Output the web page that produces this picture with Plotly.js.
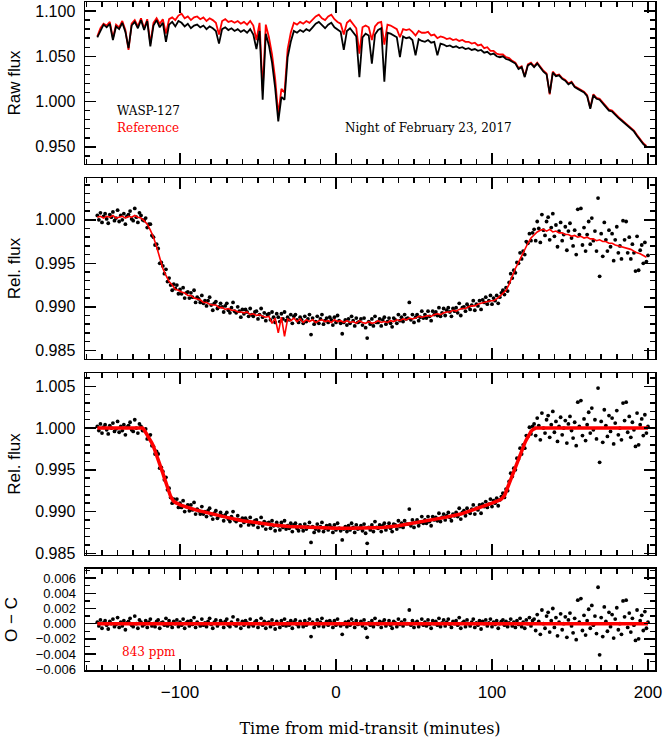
<!DOCTYPE html>
<html>
<head>
<meta charset="utf-8">
<script src="https://cdn.plot.ly/plotly-3.0.1.min.js"></script>
<style>html,body{margin:0;padding:0;background:#fff;}#chart{width:664px;height:738px;}</style>
</head>
<body>
<div id="chart"></div>
<script>
// ---- time grids (minutes from mid-transit) ----
const tMin = [
-153,-152,-151,-150,-149,-148,-147,-146,-145,-144,
-143,-142,-141,-140,-139,-138,-137,-136,-135,-134,
-133,-132,-131,-130,-129,-128,-127,-126,-125,-124,
-123,-122,-121,-120,-119,-118,-117,-116,-115,-114,
-113,-112,-111,-110,-109,-108,-107,-106,-105,-104,
-103,-102,-101,-100,-99,-98,-97,-96,-95,-94,
-93,-92,-91,-90,-89,-88,-87,-86,-85,-84,
-83,-82,-81,-80,-79,-78,-77,-76,-75,-74,
-73,-72,-71,-70,-69,-68,-67,-66,-65,-64,
-63,-62,-61,-60,-59,-58,-57,-56,-55,-54,
-53,-52,-51,-50,-49,-48,-47,-46,-45,-44,
-43,-42,-41,-40,-39,-38,-37,-36,-35,-34,
-33,-32,-31,-30,-29,-28,-27,-26,-25,-24,
-23,-22,-21,-20,-19,-18,-17,-16,-15,-14,
-13,-12,-11,-10,-9,-8,-7,-6,-5,-4,
-3,-2,-1,0,1,2,3,4,5,6,
7,8,9,10,11,12,13,14,15,16,
17,18,19,20,21,22,23,24,25,26,
27,28,29,30,31,32,33,34,35,36,
37,38,39,40,41,42,43,44,45,46,
47,48,49,50,51,52,53,54,55,56,
57,58,59,60,61,62,63,64,65,66,
67,68,69,70,71,72,73,74,75,76,
77,78,79,80,81,82,83,84,85,86,
87,88,89,90,91,92,93,94,95,96,
97,98,99,100,101,102,103,104,105,106,
107,108,109,110,111,112,113,114,115,116,
117,118,119,120,121,122,123,124,125,126,
127,128,129,130,131,132,133,134,135,136,
137,138,139,140,141,142,143,144,145,146,
147,148,149,150,151,152,153,154,155,156,
157,158,159,160,161,162,163,164,165,166,
167,168,169,170,171,172,173,174,175,176,
177,178,179,180,181,182,183,184,185,186,
187,188,189,190,191,192,193,194,195,196,
197,198,199,200];

// Panel 2: relative flux (before detrending)
const relFlux = [
1.0005,1.0000,1.0008,.9997,1.0004,1.0007,1.0001,.9996,1.0006,1.0003,
1.0009,.9999,1.0002,1.0011,.9998,1.0005,1.0000,1.0007,.9995,1.0004,
1.0006,1.0010,1.0001,.9999,1.0013,1.0003,.9997,1.0008,1.0005,1.0000,
.9999,1.0002,.9991,.9995,.9995,.9982,.9980,.9971,.9972,.9967,
.9950,.9951,.9947,.9938,.9943,.9929,.9933,.9925,.9919,.9926,
.9921,.9925,.9915,.9920,.9915,.9922,.9910,.9916,.9917,.9910,
.9916,.9911,.9919,.9905,.9911,.9909,.9905,.9913,.9904,.9907,
.9901,.9907,.9911,.9902,.9896,.9904,.9906,.9898,.9900,.9904,
.9900,.9894,.9901,.9904,.9896,.9893,.9899,.9905,.9895,.9893,
.9900,.9895,.9888,.9897,.9892,.9897,.9894,.9889,.9898,.9891,
.9889,.9894,.9895,.9886,.9891,.9898,.9888,.9893,.9884,.9891,
.9892,.9885,.9894,.9888,.9882,.9892,.9888,.9883,.9892,.9886,
.9894,.9884,.9888,.9885,.9891,.9881,.9889,.9891,.9885,.9882,
.9888,.9885,.9881,.9889,.9883,.9886,.9891,.9868,.9887,.9880,
.9883,.9889,.9881,.9886,.9891,.9880,.9884,.9887,.9882,.9888,
.9885,.9879,.9888,.9882,.9890,.9884,.9881,.9869,.9882,.9885,
.9879,.9886,.9881,.9889,.9884,.9878,.9887,.9882,.9883,.9886,
.9879,.9887,.9876,.9864,.9883,.9880,.9886,.9878,.9889,.9882,
.9882,.9886,.9878,.9885,.9888,.9880,.9883,.9887,.9881,.9877,
.9887,.9885,.9881,.9891,.9884,.9888,.9883,.9891,.9886,.9887,
.9905,.9885,.9891,.9882,.9888,.9891,.9884,.9888,.9895,.9887,
.9891,.9887,.9895,.9889,.9884,.9895,.9891,.9894,.9890,.9899,
.9889,.9893,.9898,.9890,.9896,.9899,.9894,.9889,.9898,.9895,
.9899,.9893,.9904,.9890,.9899,.9900,.9895,.9903,.9900,.9897,
.9902,.9907,.9896,.9903,.9901,.9907,.9897,.9908,.9905,.9911,
.9903,.9907,.9913,.9903,.9910,.9907,.9913,.9904,.9911,.9916,
.9919,.9914,.9922,.9918,.9928,.9938,.9933,.9942,.9939,.9951,
.9950,.9962,.9955,.9964,.9960,.9975,.9973,.9984,.9976,.9985,
.9989,.9976,.9998,.9990,.9974,1.0006,.9988,.9982,.9998,1.0003,
.9977,.9991,1.0007,.9981,.9994,.9969,.9987,.9997,.9976,.9983,
.9992,.9965,.9987,.9996,.9979,.9970,.9988,.9960,1.0012,.9983,
1.0013,.9971,.9991,.9964,.9983,.9998,.9972,1.0002,.9976,.9987,
.9964,1.0025,.9935,.9984,.9958,.9997,.9977,.9964,.9988,.9969,
.9984,.9953,.9977,.9992,.9962,.9970,.9955,.9999,.9977,.9998,
.9962,.9980,.9955,.9972,.9962,.9941,.9981,.9942,.9965,.9971,
.9950,.9974,.9952,.9959];

// Panel 3: detrended relative flux
const relDetrended = [
1.0002,.9997,1.0005,.9994,1.0001,1.0004,.9998,.9993,1.0003,1.0000,
1.0006,.9996,.9999,1.0008,.9995,1.0002,.9997,1.0004,.9992,1.0001,
1.0003,1.0007,.9998,.9996,1.0010,1.0000,.9994,1.0005,1.0002,.9997,
.9997,.9999,.9987,.9991,.9992,.9979,.9978,.9969,.9972,.9969,
.9952,.9953,.9948,.9938,.9941,.9926,.9928,.9917,.9910,.9915,
.9911,.9915,.9905,.9910,.9905,.9913,.9900,.9906,.9908,.9901,
.9908,.9902,.9911,.9897,.9903,.9901,.9897,.9906,.9897,.9900,
.9894,.9901,.9904,.9896,.9891,.9898,.9901,.9892,.9895,.9899,
.9895,.9889,.9896,.9899,.9891,.9888,.9894,.9900,.9890,.9888,
.9895,.9890,.9883,.9892,.9887,.9892,.9889,.9884,.9893,.9886,
.9884,.9889,.9890,.9881,.9886,.9893,.9883,.9888,.9879,.9886,
.9887,.9880,.9889,.9883,.9877,.9887,.9883,.9878,.9887,.9881,
.9889,.9879,.9883,.9880,.9886,.9876,.9884,.9886,.9880,.9877,
.9884,.9881,.9877,.9885,.9879,.9882,.9887,.9863,.9882,.9875,
.9879,.9885,.9877,.9882,.9887,.9876,.9880,.9883,.9878,.9884,
.9881,.9875,.9884,.9878,.9886,.9880,.9877,.9866,.9879,.9882,
.9876,.9883,.9878,.9886,.9881,.9875,.9884,.9879,.9880,.9883,
.9877,.9885,.9874,.9862,.9881,.9878,.9884,.9876,.9888,.9881,
.9880,.9884,.9876,.9883,.9886,.9878,.9882,.9886,.9880,.9876,
.9885,.9884,.9879,.9889,.9882,.9886,.9881,.9889,.9885,.9885,
.9903,.9883,.9890,.9881,.9887,.9890,.9883,.9887,.9894,.9886,
.9890,.9886,.9894,.9888,.9883,.9894,.9890,.9893,.9889,.9898,
.9888,.9893,.9897,.9890,.9895,.9899,.9893,.9889,.9897,.9895,
.9899,.9894,.9904,.9891,.9899,.9901,.9895,.9904,.9900,.9898,
.9903,.9908,.9897,.9904,.9902,.9908,.9898,.9909,.9906,.9912,
.9905,.9909,.9915,.9906,.9913,.9910,.9916,.9907,.9914,.9918,
.9922,.9917,.9927,.9925,.9936,.9946,.9942,.9952,.9950,.9964,
.9963,.9976,.9969,.9980,.9976,.9991,.9990,1.0001,.9993,1.0002,
1.0005,.9991,1.0012,1.0003,.9986,1.0018,1.0000,.9994,1.0010,1.0015,
.9989,1.0004,1.0020,.9995,1.0008,.9984,1.0002,1.0013,.9992,1.0000,
1.0009,.9982,1.0005,1.0014,.9997,.9988,1.0007,.9979,1.0031,1.0002,
1.0033,.9991,1.0011,.9985,1.0004,1.0019,.9994,1.0024,.9998,1.0010,
.9987,1.0048,.9959,1.0008,.9983,1.0022,1.0003,.9990,1.0015,.9996,
1.0012,.9981,1.0006,1.0021,.9992,1.0000,.9986,1.0030,1.0009,1.0031,
.9995,1.0014,.9989,1.0007,.9998,.9978,1.0018,.9980,1.0004,1.0011,
.9991,1.0016,.9994,1.0002];

// Panel 4: residuals O - C
const residuals = [
.0002,-.0003,.0005,-.0006,.0001,.0004,-.0002,-.0007,.0003,0,
.0006,-.0004,-.0001,.0008,-.0005,.0002,-.0003,.0004,-.0008,.0001,
.0003,.0007,-.0002,-.0004,.0010,0,-.0006,.0005,.0002,-.0003,
-.0001,.0004,-.0005,.0002,.0006,-.0003,0,-.0004,.0003,.0005,
-.0006,.0001,.0002,-.0002,.0007,-.0003,.0004,-.0001,-.0005,.0003,
0,.0005,-.0004,.0002,-.0002,.0006,-.0006,.0001,.0003,-.0003,
.0004,-.0001,.0008,-.0005,.0002,0,-.0003,.0006,-.0002,.0001,
-.0004,.0003,.0007,-.0001,-.0006,.0002,.0005,-.0003,0,.0004,
.0001,-.0005,.0003,.0006,-.0002,-.0004,.0002,.0009,-.0001,-.0003,
.0005,0,-.0006,.0003,-.0002,.0004,.0001,-.0004,.0006,-.0001,
-.0003,.0002,.0004,-.0005,0,.0007,-.0002,.0003,-.0006,.0001,
.0002,-.0004,.0005,-.0001,-.0007,.0003,0,-.0005,.0004,-.0002,
.0006,-.0003,.0001,-.0002,.0004,-.0006,.0002,.0005,-.0001,-.0004,
.0003,0,-.0004,.0004,-.0002,.0001,.0006,-.0017,.0002,-.0005,
-.0001,.0005,-.0003,.0002,.0007,-.0004,0,.0003,-.0002,.0004,
.0001,-.0005,.0004,-.0002,.0006,0,-.0003,-.0014,-.0001,.0002,
-.0004,.0003,-.0002,.0006,.0001,-.0005,.0004,-.0001,0,.0003,
-.0003,.0005,-.0006,-.0018,.0001,-.0002,.0004,-.0004,.0007,0,
-.0001,.0003,-.0005,.0002,.0005,-.0003,0,.0004,-.0002,-.0006,
.0003,.0001,-.0004,.0006,-.0001,.0002,-.0003,.0005,0,0,
.0018,-.0002,.0004,-.0005,.0001,.0003,-.0004,0,.0006,-.0002,
.0002,-.0003,.0005,-.0001,-.0006,.0004,0,.0003,-.0002,.0007,
-.0004,.0001,.0005,-.0003,.0002,.0006,-.0001,-.0005,.0003,0,
.0004,-.0002,.0008,-.0006,.0001,.0003,-.0004,.0005,0,-.0003,
.0002,.0006,-.0005,.0001,-.0002,.0004,-.0007,.0003,0,.0005,
-.0003,.0001,.0006,-.0004,.0002,-.0001,.0004,-.0006,0,.0003,
.0005,-.0002,.0003,-.0004,.0001,.0006,-.0003,.0002,-.0005,.0004,
-.0001,.0007,-.0004,.0002,-.0006,.0005,0,.0008,-.0003,.0004,
.0006,-.0009,.0012,.0003,-.0014,.0018,0,-.0006,.0010,.0015,
-.0011,.0004,.0020,-.0005,.0008,-.0016,.0002,.0013,-.0008,0,
.0009,-.0018,.0005,.0014,-.0003,-.0012,.0007,-.0021,.0031,.0002,
.0033,-.0009,.0011,-.0015,.0004,.0019,-.0006,.0024,-.0002,.0010,
-.0013,.0048,-.0041,.0008,-.0017,.0022,.0003,-.0010,.0015,-.0004,
.0012,-.0019,.0006,.0021,-.0008,0,-.0014,.0030,.0009,.0031,
-.0005,.0014,-.0011,.0007,-.0002,-.0022,.0018,-.0020,.0004,.0011,
-.0009,.0016,-.0006,.0002];

// 2-minute grid for the raw light curves and the panel-2 reference model
const tRaw = [
-153,-151,-149,-147,-145,-143,-141,-139,-137,-135,-133,-131,-129,-127,-125,
-123,-121,-119,-117,-115,-113,-111,-109,-107,-105,-103,-101,
-99,-97,-95,-93,-91,-89,-87,-85,-83,-81,-79,-77,
-75,-73,-71,-69,-67,-65,-63,-61,-59,-57,-55,-53,
-51,-49,-47,-45,-43,-41,-39,-37,-35,-33,-31,-29,
-27,-25,-23,-21,-19,-17,-15,-13,-11,-9,-7,-5,
-3,-1,1,3,5,7,9,11,13,15,17,19,
21,23,25,27,29,31,33,35,37,39,41,43,
45,47,49,51,53,55,57,59,61,63,65,67,
69,71,73,75,77,79,81,83,85,87,89,91,
93,95,97,99,101,103,105,107,109,111,113,115,
117,119,121,123,125,127,129,131,133,135,137,139,
141,143,145,147,149,151,153,155,157,159,161,163,
165,167,169,171,173,175,177,179,181,183,185,187,
189,191,193,195,197,199];

const rawTarget = [
1.071,1.079,1.085,1.082,1.086,1.068,1.083,1.080,1.087,1.077,1.059,1.084,1.088,1.081,1.090,
1.079,1.089,1.061,1.084,1.090,1.082,1.087,1.066,1.085,1.088,1.083,1.089,
1.087,1.083,1.086,1.081,1.084,1.085,1.082,1.084,1.080,1.083,1.081,1.078,
1.064,1.080,1.082,1.079,1.081,1.078,1.080,1.077,1.079,1.076,1.080,1.074,
1.058,1.078,1.002,1.075,1.062,1.043,1.015,0.978,1.005,1.002,1.049,1.066,
1.078,1.076,1.079,1.077,1.080,1.078,1.082,1.086,1.088,1.084,1.081,1.085,
1.087,1.082,1.079,1.077,1.057,1.078,1.081,1.076,1.072,1.027,1.071,1.075,
1.073,1.042,1.074,1.079,1.081,1.022,1.076,1.075,1.073,1.071,1.049,1.072,
1.070,1.071,1.068,1.051,1.069,1.067,1.066,1.068,1.065,1.066,1.051,1.064,
1.063,1.061,1.062,1.060,1.061,1.059,1.060,1.058,1.059,1.057,1.058,1.056,
1.057,1.054,1.055,1.052,1.053,1.050,1.049,1.050,1.047,1.046,1.044,1.042,
1.036,1.038,1.027,1.040,1.042,1.038,1.042,1.037,1.033,1.030,1.009,1.032,
1.028,1.029,1.025,1.023,1.019,1.021,1.016,1.014,1.012,1.010,1.006,0.992,
1.007,1.003,1.002,0.998,0.994,0.990,0.989,0.985,0.982,0.979,0.976,0.974,
0.970,0.967,0.962,0.957,0.953,0.950];

const rawReference = [
1.072,1.081,1.086,1.084,1.088,1.070,1.085,1.082,1.089,1.079,1.057,1.086,1.090,1.083,1.092,
1.081,1.091,1.064,1.087,1.092,1.086,1.091,1.075,1.091,1.093,1.090,1.095,
1.097,1.092,1.094,1.090,1.093,1.094,1.091,1.093,1.089,1.092,1.090,1.087,
1.074,1.089,1.091,1.088,1.089,1.087,1.089,1.086,1.088,1.085,1.089,1.084,
1.068,1.087,1.012,1.085,1.071,1.052,1.025,0.985,1.014,1.010,1.058,1.076,
1.087,1.085,1.088,1.086,1.089,1.087,1.091,1.094,1.096,1.092,1.090,1.094,
1.096,1.091,1.088,1.086,1.074,1.087,1.090,1.085,1.081,1.053,1.082,1.084,
1.082,1.068,1.083,1.087,1.088,1.063,1.085,1.084,1.082,1.080,1.071,1.080,
1.079,1.080,1.077,1.073,1.078,1.076,1.076,1.077,1.073,1.074,1.070,1.072,
1.071,1.069,1.070,1.068,1.069,1.067,1.068,1.066,1.066,1.064,1.065,1.062,
1.063,1.059,1.060,1.056,1.056,1.053,1.052,1.052,1.049,1.048,1.045,1.043,
1.037,1.039,1.028,1.041,1.043,1.039,1.043,1.038,1.034,1.031,1.008,1.033,
1.029,1.030,1.026,1.024,1.020,1.022,1.017,1.015,1.013,1.011,1.007,0.993,
1.008,1.004,1.003,0.999,0.995,0.991,0.990,0.986,0.983,0.980,0.977,0.975,
0.971,0.968,0.963,0.958,0.954,0.951];

// Panel 2 red curve (model incl. reference trend)
const trendModel = [
1.0003,1.0004,1.0002,1.0004,1.0003,1.0005,1.0002,1.0003,1.0004,1.0002,1.0004,1.0003,1.0005,1.0003,1.0002,
.9999,.9995,.9988,.9980,.9969,.9956,.9944,.9936,.9929,.9925,.9920,.9919,
.9917,.9916,.9913,.9913,.9910,.9909,.9908,.9905,.9905,.9903,.9902,.9902,
.9899,.9899,.9897,.9898,.9896,.9896,.9894,.9894,.9893,.9894,.9891,.9892,
.9890,.9891,.9889,.9888,.9889,.9881,.9887,.9870,.9888,.9866,.9886,.9884,
.9887,.9883,.9886,.9882,.9885,.9883,.9885,.9882,.9884,.9885,.9883,.9884,
.9882,.9885,.9883,.9884,.9882,.9884,.9882,.9883,.9881,.9884,.9882,.9881,
.9883,.9881,.9882,.9884,.9882,.9883,.9882,.9884,.9883,.9885,.9884,.9886,
.9885,.9887,.9886,.9887,.9889,.9888,.9889,.9890,.9889,.9891,.9892,.9891,
.9893,.9894,.9894,.9896,.9895,.9897,.9898,.9898,.9900,.9901,.9901,.9903,
.9904,.9905,.9906,.9907,.9907,.9909,.9912,.9915,.9919,.9926,.9936,.9944,
.9951,.9959,.9966,.9973,.9979,.9983,.9986,.9988,.9989,.9987,.9989,.9986,
.9987,.9985,.9985,.9983,.9983,.9981,.9982,.9980,.9981,.9979,.9980,.9978,
.9978,.9976,.9977,.9975,.9975,.9973,.9973,.9971,.9970,.9969,.9968,.9967,
.9966,.9964,.9962,.9961,.9959,.9957];

// Panel 3 transit model
const tModel = [-153,-124,-123,-122,-121,-120,-119,-118,-117,-116,-115,-114,-113,-112,-111,-110,-109,-108,-107,-106,-105,-104,-103,-102,
-100,-90,-80,-70,-60,-50,-40,-30,-20,-10,0,10,20,30,40,50,60,70,80,90,100,104,106,108,
109,110,111,112,113,114,115,116,117,118,119,120,121,122,123,124,125,126,127,128,200];
const transitModel = [1.0000,1.0000,.9998,.9995,.9992,.9989,.9986,.9982,.9978,.9973,.9969,.9964,.9958,.9952,.9946,.9940,.9934,.9929,.9924,.9918,.9915,.9912,.9911,.9910,
.9908,.9902,.9897,.9893,.9889,.9886,.9884,.9882,.9881,.9880,.9880,.9880,.9880,.9881,.9883,.9886,.9889,.9893,.9897,.9903,.9910,.9913,.9915,.9919,
.9924,.9929,.9935,.9940,.9945,.9950,.9955,.9960,.9964,.9969,.9973,.9978,.9982,.9986,.9990,.9993,.9996,.9998,.9999,1.0000,1.0000];

// Panel 4 zero line
const tZero = [-153, 200];
const zeroLine = [0, 0];

const yTicks1 = [0.95, 1.0, 1.05, 1.1];
const yTicks23 = [0.985, 0.99, 0.995, 1.0, 1.005];
const yTicks4 = [-0.006, -0.004, -0.002, 0, 0.002, 0.004, 0.006];
const xTicks = [-100, 0, 100, 200];

const BLACK = '#000000', RED = '#ff0000';
const SANS = 'Liberation Sans, Arial, Helvetica, sans-serif';
const titleFont = {family: SANS, size: 17, color: BLACK};
const noteFont = {family: 'DejaVu Serif, serif', size: 12, color: BLACK};

const traces = [
  // Panel 1 raw flux
  {x: tRaw, y: rawReference, xaxis: 'x4', yaxis: 'y4', type: 'scatter', mode: 'lines', line: {color: RED, width: 1.8}, name: 'Reference'},
  {x: tRaw, y: rawTarget, xaxis: 'x4', yaxis: 'y4', type: 'scatter', mode: 'lines', line: {color: BLACK, width: 1.8}, name: 'WASP-127'},
  // Panel 2
  {x: tMin, y: relFlux, xaxis: 'x3', yaxis: 'y3', type: 'scatter', mode: 'markers', marker: {color: BLACK, size: 3.8}},
  {x: tRaw, y: trendModel, xaxis: 'x3', yaxis: 'y3', type: 'scatter', mode: 'lines', line: {color: RED, width: 1.6}},
  // Panel 3
  {x: tMin, y: relDetrended, xaxis: 'x2', yaxis: 'y2', type: 'scatter', mode: 'markers', marker: {color: BLACK, size: 3.8}},
  {x: tModel, y: transitModel, xaxis: 'x2', yaxis: 'y2', type: 'scatter', mode: 'lines', line: {color: RED, width: 3.5}},
  // Panel 4
  {x: tMin, y: residuals, xaxis: 'x', yaxis: 'y', type: 'scatter', mode: 'markers', marker: {color: BLACK, size: 3.8}},
  {x: tZero, y: zeroLine, xaxis: 'x', yaxis: 'y', type: 'scatter', mode: 'lines', line: {color: RED, width: 3.5}}
];

function xAx(showLabels, anchor) {
  const a = {
    anchor: anchor, range: [-160.9, 204.5], tickvals: xTicks, showticklabels: showLabels,
    ticks: 'inside', ticklen: 11, tickwidth: 1.5, tickcolor: BLACK,
    showline: true, linecolor: BLACK, linewidth: 1.5, mirror: 'allticks',
    showgrid: false, zeroline: false, tickfont: {family: SANS, size: 17, color: BLACK},
    ticklabelstandoff: 6,
    minor: {dtick: 10, tick0: 0, ticks: 'inside', ticklen: 5, tickwidth: 1.5, tickcolor: BLACK, showgrid: false}
  };
  if (showLabels) {
    a.title = {text: 'Time from mid-transit (minutes)', font: {family: 'DejaVu Serif, serif', size: 16, color: BLACK}, standoff: 22};
  }
  return a;
}
function yAx(anchor, domain, range, tickvals, minorDtick, title, fsize, standoff) {
  return {
    anchor: anchor, domain: domain, range: range, tickvals: tickvals, tickformat: '.3f',
    ticks: 'inside', ticklen: 11, tickwidth: 1.5, tickcolor: BLACK,
    showline: true, linecolor: BLACK, linewidth: 1.5, mirror: 'allticks',
    showgrid: false, zeroline: false, tickfont: {family: SANS, size: fsize, color: BLACK}, ticklabelstandoff: 5,
    minor: {dtick: minorDtick, tick0: 0, ticks: 'inside', ticklen: 5, tickwidth: 1.5, tickcolor: BLACK, showgrid: false},
    title: {text: title, font: titleFont, standoff: standoff}
  };
}

const layout = {
  width: 664, height: 738,
  margin: {l: 85, r: 9, t: 2, b: 68},
  paper_bgcolor: '#ffffff', plot_bgcolor: '#ffffff',
  showlegend: false,
  xaxis: xAx(true, 'y'),
  xaxis2: xAx(false, 'y2'),
  xaxis3: xAx(false, 'y3'),
  xaxis4: xAx(false, 'y4'),
  yaxis: yAx('x', [0, 0.1512], [-0.0061, 0.0072], yTicks4, 0.001, 'O \u2212 C', 13, 14),
  yaxis2: yAx('x2', [0.1722, 0.4446], [0.9848, 1.0066], yTicks23, 0.001, 'Rel. flux', 16, 10),
  yaxis3: yAx('x3', [0.4656, 0.7365], [0.9840, 1.0048], yTicks23, 0.001, 'Rel. flux', 16, 10),
  yaxis4: yAx('x4', [0.7575, 1.0], [0.931, 1.110], yTicks1, 0.01, 'Raw flux', 16, 10),
  annotations: [
    {xref: 'x4', yref: 'y4', x: -141.7, y: 0.9894, xanchor: 'left', yanchor: 'middle', text: 'WASP-127', showarrow: false, font: noteFont},
    {xref: 'x4', yref: 'y4', x: -141.7, y: 0.9706, xanchor: 'left', yanchor: 'middle', text: 'Reference', showarrow: false, font: {family: 'DejaVu Serif, serif', size: 12, color: RED}},
    {xref: 'x4', yref: 'y4', x: 4.5, y: 0.9706, xanchor: 'left', yanchor: 'middle', text: 'Night of February 23, 2017', showarrow: false, font: noteFont},
    {xref: 'x', yref: 'y', x: -138.5, y: -0.00378, xanchor: 'left', yanchor: 'middle', text: '843 ppm', showarrow: false, font: {family: 'DejaVu Serif, serif', size: 12, color: RED}}
  ]
};

Plotly.newPlot('chart', traces, layout, {staticPlot: true, displayModeBar: false});
</script>
</body>
</html>
